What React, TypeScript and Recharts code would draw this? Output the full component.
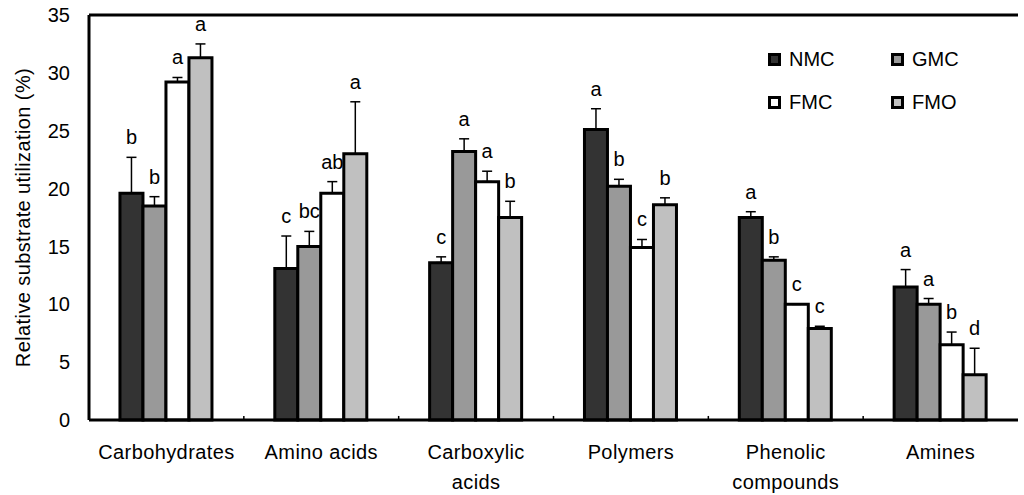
import { BarChart, Bar, XAxis, YAxis, ErrorBar, LabelList, Legend, Label, ReferenceLine } from "recharts";

const categories = ["Carbohydrates", "Amino acids", "Carboxylic\nacids", "Polymers", "Phenolic\ncompounds", "Amines"];
const seriesNames = ["NMC", "GMC", "FMC", "FMO"];
const seriesColors = ["#333333", "#999999", "#ffffff", "#c0c0c0"];

const nmc = [19.6, 13.1, 13.6, 25.1, 17.5, 11.5];
const gmc = [18.5, 15.0, 23.2, 20.2, 13.8, 10.0];
const fmc = [29.2, 19.6, 20.6, 14.9, 10.0, 6.5];
const fmo = [31.3, 23.0, 17.5, 18.6, 7.9, 3.9];

const nmcErr = [3.1, 2.8, 0.5, 1.8, 0.5, 1.5];
const gmcErr = [0.8, 1.3, 1.1, 0.6, 0.3, 0.5];
const fmcErr = [0.4, 1.0, 0.9, 0.7, 0, 1.1];
const fmoErr = [1.2, 4.5, 1.4, 0.6, 0.2, 2.3];

const nmcSig = ["b", "c", "c", "a", "a", "a"];
const gmcSig = ["b", "bc", "a", "b", "b", "a"];
const fmcSig = ["a", "ab", "a", "c", "c", "b"];
const fmoSig = ["a", "a", "b", "b", "c", "d"];

const yTicks = [0, 5, 10, 15, 20, 25, 30, 35];

const values = [nmc, gmc, fmc, fmo];
const errors = [nmcErr, gmcErr, fmcErr, fmoErr];
const letters = [nmcSig, gmcSig, fmcSig, fmoSig];

const data = categories.map((name, i) => {
  const row: any = { name };
  seriesNames.forEach((s, k) => {
    row[s] = values[k][i];
    row[s + "_err"] = [0, errors[k][i]];
  });
  return row;
});

const FONT = "'Liberation Sans', Arial, sans-serif";

function CategoryTick(props: any) {
  const { x, y, payload } = props;
  const lines = String(payload.value).split("\n");
  return (
    <text x={x} y={y} textAnchor="middle" fontFamily={FONT} fontSize={20} letterSpacing={0.4} fill="#000">
      {lines.map((l, i) => (
        <tspan key={i} x={x} dy={i === 0 ? 39 : 30}>
          {l}
        </tspan>
      ))}
    </text>
  );
}

function sigLabel(k: number) {
  return (props: any) => {
    const { x, y, width, height, value, index } = props;
    const err = errors[k][index];
    const top = y - (value ? (err * height) / value : 0);
    return (
      <text x={x + width / 2} y={top - 13} textAnchor="middle" fontFamily={FONT} fontSize={20} fill="#000">
        {letters[k][index]}
      </text>
    );
  };
}

function LegendBox() {
  return (
    <div style={{ display: "grid", gridTemplateColumns: "123px 123px", rowGap: 22, fontFamily: FONT, fontSize: 20 }}>
      {seriesNames.map((s, k) => (
        <div key={s} style={{ display: "flex", alignItems: "center", height: 21 }}>
          <span
            style={{
              display: "inline-block",
              width: 7,
              height: 7,
              background: seriesColors[k],
              border: "3px solid #000",
              marginRight: 8,
            }}
          />
          <span>{s}</span>
        </div>
      ))}
    </div>
  );
}

export default function App() {
  return (
    <div style={{ position: "absolute", left: 0, top: 0, width: 1024, height: 495, background: "#fff" }}>
      <BarChart
        width={1024}
        height={495}
        data={data}
        margin={{ top: 15, right: 6, bottom: 5, left: 0 }}
        barGap={0}
        barCategoryGap="20%"
      >
        <XAxis
          dataKey="name"
          tick={<CategoryTick />}
          tickLine={false}
          tickSize={0}
          tickMargin={0}
          height={70}
          interval={0}
          axisLine={{ stroke: "#000", strokeWidth: 3 }}
        />
        <YAxis
          domain={[0, 35]}
          ticks={yTicks}
          width={89}
          tickLine={false}
          tickSize={0}
          tickMargin={19}
          tick={{ fill: "#000", fontSize: 20, fontFamily: FONT }}
          axisLine={{ stroke: "#000", strokeWidth: 3 }}
        >
          <Label
            value="Relative substrate utilization (%)"
            angle={-90}
            position="center"
            dx={-22}
            style={{ fontFamily: FONT, fontSize: 20, letterSpacing: 0.4, fill: "#000" }}
          />
        </YAxis>
        <ReferenceLine y={35} stroke="#000" strokeWidth={3} />
        <ReferenceLine x={categories[categories.length - 1]} position="end" stroke="#000" strokeWidth={3} />
        {categories.slice(1).map((c) => (
          <ReferenceLine
            key={c}
            segment={[
              { x: c, y: 0 },
              { x: c, y: 0.35 },
            ]}
            position="start"
            stroke="#000"
            strokeWidth={1.5}
          />
        ))}
        <Legend
          content={<LegendBox />}
          layout="horizontal"
          verticalAlign="middle"
          align="center"
          wrapperStyle={{ left: 768, top: 49, width: 250 }}
        />
        {seriesNames.map((s, k) => (
          <Bar key={s} dataKey={s} fill={seriesColors[k]} stroke="#000" strokeWidth={3} isAnimationActive={false}>
            <ErrorBar dataKey={s + "_err"} width={5} stroke="#000" strokeWidth={1.5} direction="y" />
            <LabelList dataKey={s} content={sigLabel(k)} />
          </Bar>
        ))}
      </BarChart>
    </div>
  );
}
